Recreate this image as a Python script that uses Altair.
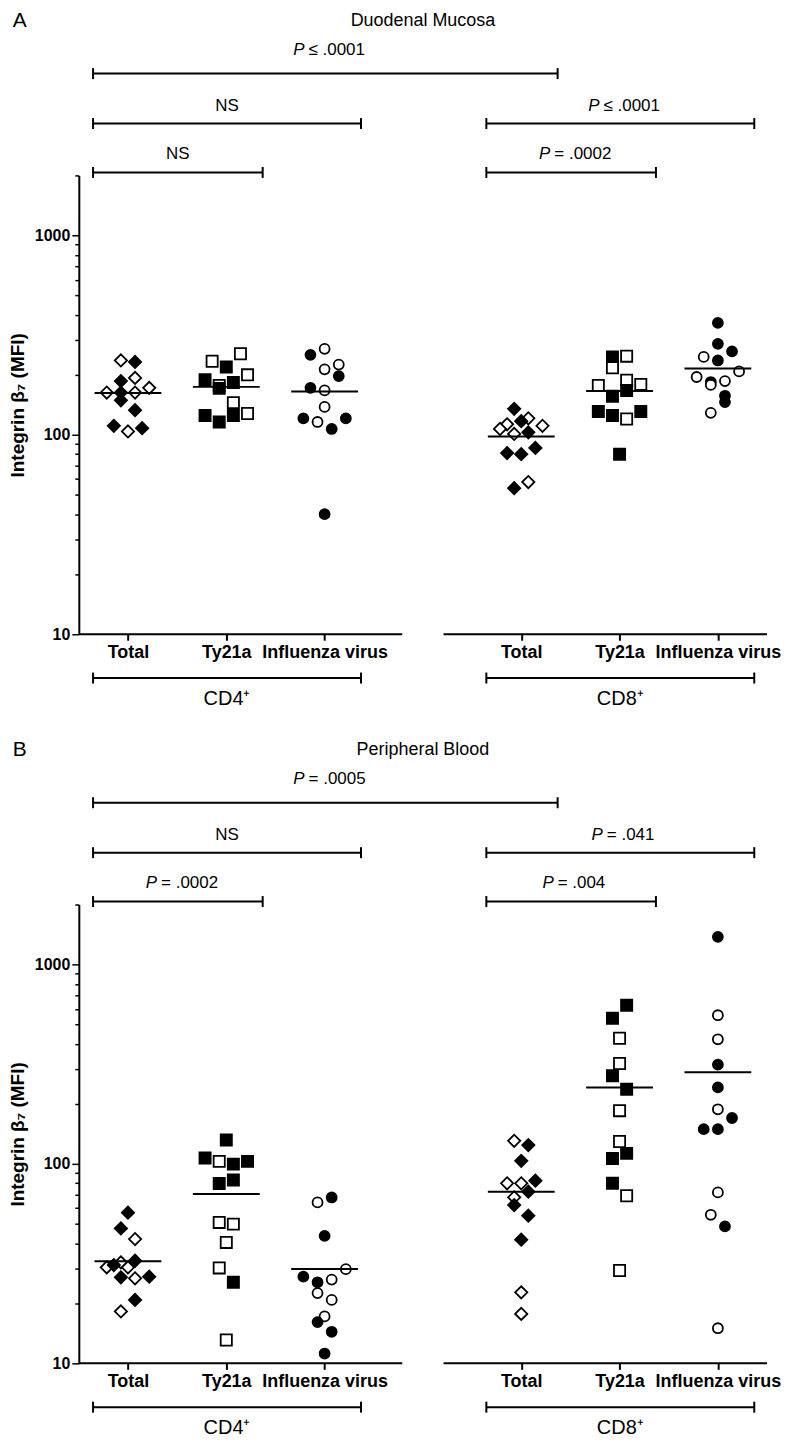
import json
import altair as alt
import pandas as pd

# ---------------- data ----------------
groups = ["Total", "Ty21a", "Influenza virus"]
subsets = ["CD4⁺", "CD8⁺"]
shapes = ["diamond", "square", "circle"]
y_ticks = [10, 20, 30, 40, 50, 60, 70, 80, 90, 100, 200, 300, 400, 500, 600, 700, 800, 900, 1000, 2000]
y_major = [10, 100, 1000]

# Panel A - Duodenal Mucosa (value, open marker flag, scatter column)
A_cd4_total = [236, 232, 186, 193, 163, 163, 163, 172, 149, 133, 111, 104, 108]
A_cd4_total_open = [1, 0, 0, 1, 1, 0, 1, 1, 0, 0, 0, 1, 0]
A_cd4_total_col = [-1, 1, -1, 1, -3, -1, 1, 3, -1, 1, -2, 0, 2]
A_cd4_ty = [234, 255, 219, 200, 189, 183, 177, 171, 145, 125, 116, 125, 128]
A_cd4_ty_open = [1, 1, 0, 1, 0, 0, 1, 0, 1, 0, 0, 0, 1]
A_cd4_ty_col = [-2, 2, 0, 3, -3, 1, -1, -1, 1, -3, -1, 1, 3]
A_cd4_flu = [252, 270, 225, 213, 197, 172, 167, 138, 121, 116, 121, 107, 40]
A_cd4_flu_open = [0, 1, 1, 1, 0, 0, 1, 1, 0, 1, 0, 0, 0]
A_cd4_flu_col = [-2, 0, 2, 0, 2, -2, 0, 0, -3, -1, 3, 1, 0]
A_cd8_total = [135, 121, 117, 113, 107, 111, 101, 103, 86, 81, 80, 58, 54]
A_cd8_total_open = [0, 1, 0, 1, 1, 1, 1, 0, 0, 0, 0, 1, 0]
A_cd8_total_col = [-1, 1, 0, -2, -3, 3, -1, 1, 2, -2, 0, 1, -1]
A_cd8_ty = [246, 248, 217, 177, 188, 179, 167, 156, 131, 125, 120, 131, 80]
A_cd8_ty_open = [0, 1, 1, 1, 1, 1, 0, 0, 0, 0, 1, 0, 0]
A_cd8_ty_col = [-1, 1, -1, -3, 1, 3, 1, -1, -3, -1, 1, 3, 0]
A_cd8_flu = [364, 286, 262, 246, 236, 208, 195, 184, 178, 186, 157, 146, 129]
A_cd8_flu_open = [0, 0, 0, 1, 0, 1, 1, 0, 1, 1, 0, 0, 1]
A_cd8_flu_col = [0, 0, 2, -2, 0, 3, -3, -1, -1, 1, 1, 1, -1]
A_medians = [162, 174, 165, 98, 166, 215]

# Panel B - Peripheral Blood
B_cd4_total = [57, 47.5, 42, 32.1, 32.7, 30.3, 31.1, 30.3, 27, 26.7, 27.2, 20.8, 18.2]
B_cd4_total_open = [0, 0, 1, 1, 0, 1, 0, 1, 0, 1, 0, 0, 1]
B_cd4_total_col = [0, -1, 1, -1, 1, -3, -2, 0, -1, 1, 3, 1, -1]
B_cd4_ty = [132, 107, 103, 99.8, 103, 79.8, 83, 50.9, 49.9, 40.4, 30.1, 25.5, 13.1]
B_cd4_ty_open = [0, 0, 1, 0, 0, 0, 0, 1, 1, 1, 1, 0, 1]
B_cd4_ty_col = [0, -3, -1, 1, 3, -1, 1, -1, 1, 0, -1, 1, 0]
B_cd4_flu = [67.9, 64.1, 43.6, 29.7, 27.2, 25.5, 26.3, 22.5, 20.8, 17.2, 16.1, 14.4, 11.2]
B_cd4_flu_open = [0, 1, 0, 1, 0, 0, 1, 1, 1, 1, 0, 0, 0]
B_cd4_flu_col = [1, -1, 0, 3, -3, -1, 1, -1, 1, 0, -1, 1, 0]
B_cd8_total = [130.7, 124.3, 103.7, 80, 80, 82.4, 72.6, 68, 62.2, 55, 41.7, 22.7, 17.7]
B_cd8_total_open = [1, 0, 0, 1, 1, 0, 0, 1, 0, 0, 0, 1, 1]
B_cd8_total_col = [-1, 1, 0, -2, 0, 2, 1, -1, -1, 1, 0, 0, 0]
B_cd8_ty = [625, 538, 427, 319, 277, 237, 185, 129.6, 113, 106.6, 80, 69.3, 29.2]
B_cd8_ty_open = [0, 0, 1, 1, 0, 0, 1, 1, 0, 0, 0, 1, 1]
B_cd8_ty_col = [1, -1, 0, 0, -1, 1, 0, 0, 1, -1, -1, 1, 0]
B_cd8_flu = [1377, 557, 422, 315, 242, 188, 170, 149.4, 149.4, 72, 55.6, 48.6, 15]
B_cd8_flu_open = [0, 1, 1, 0, 0, 1, 0, 0, 0, 1, 1, 0, 1]
B_cd8_flu_col = [0, 0, 0, 0, 0, 0, 2, -2, 0, 0, -1, 1, 0]
B_medians = [32.5, 70.6, 29.7, 72.6, 242, 288]

# comparisons: (from group index, to group index, row, prefix, text)
A_tests_from = [0, 0, 3, 0, 3]
A_tests_to = [3, 2, 5, 1, 4]
A_tests_row = [2, 1, 1, 0, 0]
A_tests_pre = ["P", "", "P", "", "P"]
A_tests_txt = ["≤ .0001", "NS", "≤ .0001", "NS", "= .0002"]
B_tests_from = [0, 0, 3, 0, 3]
B_tests_to = [3, 2, 5, 1, 4]
B_tests_row = [2, 1, 1, 0, 0]
B_tests_pre = ["P", "", "P", "P", "P"]
B_tests_txt = ["= .0005", "NS", "= .041", "= .0002", "= .004"]

# vertical levels of the annotations (values on the log axis)
bracket_levels = [2070, 3640, 6480]
label_levels = [2550, 4480, 8500]
title_level = 11900
group_bracket_level = 6.03
group_label_level = 4.73

FONT = "Liberation Sans Narrow, Arial Narrow, Liberation Sans, Arial, sans-serif"
SLOT = 0.072          # width of one scatter column, in category units
GAP = 4               # CD8 columns start at this category index
xs = alt.Scale(domain=[-0.5, 6.5], nice=False, zero=False)
ys = alt.Scale(type="log", domain=[10, 2000], nice=False)

major_test = " || ".join(f"datum.value == {m}" for m in y_major)
x_axis = alt.Axis(
    values=[0, 1, 2, 4, 5, 6], labelExpr=f"{json.dumps(groups)}[datum.value % {GAP}]",
    domain=False, grid=False, tickSize=6, tickWidth=2, tickColor="black",
    labelFont=FONT, labelFontSize=18, labelFontWeight="bold", labelColor="black",
    labelPadding=3, title=None,
)
y_axis = alt.Axis(
    values=y_ticks,
    labelExpr=f"({major_test}) ? '' + datum.value : ''",
    grid=False, domainWidth=2, domainColor="black",
    tickSize={"condition": {"test": major_test, "value": 7}, "value": 4},
    tickWidth=1.5, tickColor="black",
    labelFont=FONT, labelFontSize=16, labelFontWeight="bold", labelColor="black", labelPadding=2,
    title="Integrin β₇ (MFI)", titleFont=FONT, titleFontSize=19, titleFontWeight="bold",
    titleColor="black", titlePadding=7,
)


def cat_index(i):
    # group index 0..5 -> category index on the x scale (gap between CD4 and CD8)
    return i if i < 3 else i + 1


def build_points(series):
    rows = []
    k = 0
    for si, sub in enumerate(subsets):
        for gi, g in enumerate(groups):
            vals, opens, cols = series[k]
            for v, o, c in zip(vals, opens, cols):
                rows.append(dict(sub=sub, grp=g, cat=gi + GAP * si, v=v, open=o, col=c))
            k += 1
    return pd.DataFrame(rows)


def X(field):
    return alt.X(field, type="quantitative", scale=xs, axis=x_axis)


def Y(field):
    return alt.Y(field, type="quantitative", scale=ys, axis=y_axis)


def panel(letter, title, series, medians, t_from, t_to, t_row, t_pre, t_txt):
    pts = build_points(series)

    points = alt.Chart(pts).transform_calculate(
        xpos=f"datum.cat + datum.col * {SLOT}"
    ).mark_point(filled=True, stroke="black", strokeWidth=1.8, opacity=1).encode(
        x=X("xpos"),
        y=Y("v"),
        shape=alt.Shape("grp:N", scale=alt.Scale(domain=groups, range=shapes), legend=None),
        size=alt.Size("grp:N", scale=alt.Scale(domain=groups, range=[150, 100, 85]), legend=None),
        fill=alt.condition("datum.open == 1", alt.value("white"), alt.value("black")),
    )

    med_df = pd.DataFrame({"cat": [cat_index(i) for i in range(6)], "med": medians})
    med = alt.Chart(med_df).mark_tick(orient="horizontal", size=67, thickness=2, color="black",
                                      opacity=1).encode(x=X("cat"), y=Y("med"))

    # x baselines: two broken segments
    base_df = pd.DataFrame({"x1": [-0.5, GAP - 0.79], "x2": [2.79, 6.5], "y": [10, 10]})
    base = alt.Chart(base_df).mark_rule(strokeWidth=2, color="black").encode(
        x=X("x1"), x2="x2", y=Y("y"))

    # significance brackets
    br_df = pd.DataFrame({
        "a": [cat_index(i) for i in t_from], "b": [cat_index(i) for i in t_to],
        "row": t_row, "pre": t_pre, "txt": t_txt,
    })
    br_df["yb"] = [bracket_levels[r] for r in br_df["row"]]
    br_df["yl"] = [label_levels[r] for r in br_df["row"]]
    # group brackets under the axis
    grp_df = pd.DataFrame({"a": [0, GAP], "b": [2, GAP + 2], "yb": [group_bracket_level] * 2,
                           "yl": [group_label_level] * 2, "txt": subsets})

    def brackets(df):
        d = alt.Chart(df).transform_calculate(x1="datum.a - 0.355", x2="datum.b + 0.37")
        line = d.mark_rule(strokeWidth=2, color="black").encode(x=X("x1"), x2="x2", y=Y("yb"))
        ends = d.transform_fold(["x1", "x2"], as_=["end", "xe"]).mark_tick(
            orient="vertical", size=11, thickness=2, color="black", opacity=1).encode(x=X("xe"), y=Y("yb"))
        return line + ends

    lab = alt.Chart(br_df).transform_calculate(
        mid="(datum.a - 0.355 + datum.b + 0.37) / 2",
        xs="datum.mid + (3.65 - 3.35 * length(datum.txt)) / 98.5",
    )
    p_italic = lab.transform_filter("datum.pre == 'P'").mark_text(
        font=FONT, fontSize=17, fontStyle="italic", align="right", baseline="middle", dx=-1, color="black"
    ).encode(x=X("xs"), y=Y("yl"), text="pre:N")
    p_rest = lab.transform_filter("datum.pre == 'P'").mark_text(
        font=FONT, fontSize=17, align="left", baseline="middle", dx=3, color="black"
    ).encode(x=X("xs"), y=Y("yl"), text="txt:N")
    ns = lab.transform_filter("datum.pre != 'P'").mark_text(
        font=FONT, fontSize=17, align="center", baseline="middle", color="black"
    ).encode(x=X("mid"), y=Y("yl"), text="txt:N")

    grp_lab = alt.Chart(grp_df).transform_calculate(
        mid="(datum.a - 0.355 + datum.b + 0.37) / 2").mark_text(
        font=FONT, fontSize=20, align="center", baseline="middle", color="black"
    ).encode(x=X("mid"), y=Y("yl"), text="txt:N")

    head_df = pd.DataFrame({"x": [3.0], "y": [title_level], "t": [title]})
    head = alt.Chart(head_df).mark_text(font=FONT, fontSize=18, align="center", baseline="middle",
                                        color="black").encode(x=X("x"), y=Y("y"), text="t:N")
    let_df = pd.DataFrame({"x": [-1.10], "y": [title_level], "t": [letter]})
    let = alt.Chart(let_df).mark_text(font=FONT, fontSize=21, align="center", baseline="middle",
                                      color="black").encode(x=X("x"), y=Y("y"), text="t:N")

    return alt.layer(
        points, med, base, brackets(br_df), brackets(grp_df), p_italic, p_rest, ns, grp_lab, head, let
    ).properties(width=690, height=460)


A_series = [
    (A_cd4_total, A_cd4_total_open, A_cd4_total_col),
    (A_cd4_ty, A_cd4_ty_open, A_cd4_ty_col),
    (A_cd4_flu, A_cd4_flu_open, A_cd4_flu_col),
    (A_cd8_total, A_cd8_total_open, A_cd8_total_col),
    (A_cd8_ty, A_cd8_ty_open, A_cd8_ty_col),
    (A_cd8_flu, A_cd8_flu_open, A_cd8_flu_col),
]
B_series = [
    (B_cd4_total, B_cd4_total_open, B_cd4_total_col),
    (B_cd4_ty, B_cd4_ty_open, B_cd4_ty_col),
    (B_cd4_flu, B_cd4_flu_open, B_cd4_flu_col),
    (B_cd8_total, B_cd8_total_open, B_cd8_total_col),
    (B_cd8_ty, B_cd8_ty_open, B_cd8_ty_col),
    (B_cd8_flu, B_cd8_flu_open, B_cd8_flu_col),
]

pA = panel("A", "Duodenal Mucosa", A_series, A_medians,
           A_tests_from, A_tests_to, A_tests_row, A_tests_pre, A_tests_txt)
pB = panel("B", "Peripheral Blood", B_series, B_medians,
           B_tests_from, B_tests_to, B_tests_row, B_tests_pre, B_tests_txt)

chart = alt.vconcat(pA, pB, spacing=30).properties(padding=0, background="white").configure_view(stroke=None)

chart.save("out.html", embed_options={"renderer": "svg", "actions": False})
